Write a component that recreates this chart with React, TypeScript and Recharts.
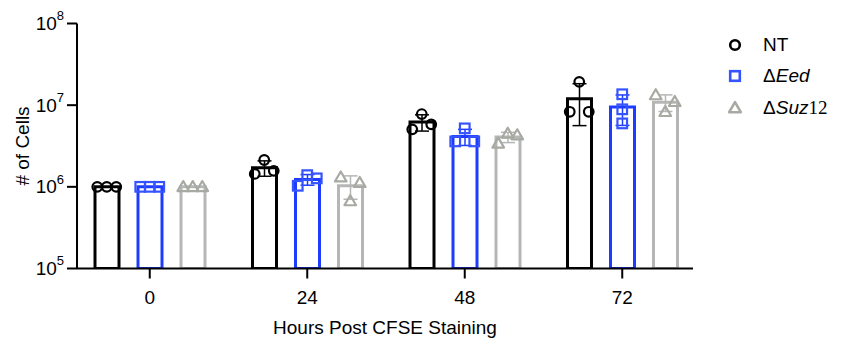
import React from "react";
import { ComposedChart, Bar, ErrorBar, Scatter, XAxis, YAxis, Legend } from "recharts";

const hours = ["0", "24", "48", "72"];

// cell counts per replicate, one row per time point, left-to-right as plotted
const ntCells = [
  [1.0e6, 1.0e6, 1.0e6],
  [1.44e6, 2.13e6, 1.57e6],
  [5.06e6, 7.78e6, 5.82e6],
  [8.3e6, 1.93e7, 8.3e6],
];
const eedCells = [
  [1.0e6, 1.0e6, 1.0e6],
  [1.03e6, 1.39e6, 1.27e6],
  [3.6e6, 5.2e6, 3.6e6],
  [1.36e7, 8.9e6, 5.98e6],
];
const suzCells = [
  [1.0e6, 1.0e6, 1.0e6],
  [1.31e6, 0.67e6, 1.12e6],
  [3.4e6, 4.5e6, 4.3e6],
  [1.33e7, 8.3e6, 1.1e7],
];

const FONT = "'Liberation Sans', Arial, sans-serif";
const BAR_SIZE = 24;
const BAR_GAP = 19;
const PAD = { left: -6, right: -8 };

const SERIES = [
  { key: "nt", cells: ntCells, color: "#000000", mark: "#000000", kind: "circle" },
  { key: "eed", cells: eedCells, color: "#1e3cff", mark: "#3553ff", kind: "square" },
  { key: "suz", cells: suzCells, color: "#b6b6b6", mark: "#a6aaa2", kind: "triangle" },
];

const mean = (v: number[]) => v.reduce((a, b) => a + b, 0) / v.length;
const sd = (v: number[]) => {
  const m = mean(v);
  return Math.sqrt(v.reduce((a, b) => a + (b - m) ** 2, 0) / (v.length - 1));
};

// spread replicates sideways only when their markers would overlap
const slotsFor = (vals: number[]) => {
  const logs = vals.map(Math.log10);
  const crowded = logs.some((a, i) => logs.some((b, j) => i !== j && Math.abs(a - b) < 0.16));
  return vals.map((_, j) => (crowded ? j - 1 : 0));
};

const data = hours.map((hour, i) => {
  const row: any = { hour };
  SERIES.forEach((s) => {
    row[s.key] = mean(s.cells[i]);
    row[s.key + "Sd"] = sd(s.cells[i]);
  });
  return row;
});

const points = (cells: number[][]) =>
  cells.flatMap((vals, i) => {
    const slots = slotsFor(vals);
    return vals.map((y, j) => ({ x: i + 0.5, y, slot: slots[j] }));
  });

const Marker = ({ kind, cx, cy, color, sw = 2.2 }: any) => {
  if (kind === "circle")
    return <circle cx={cx} cy={cy} r={4.8} fill="none" stroke={color} strokeWidth={sw} />;
  if (kind === "square")
    return <rect x={cx - 4.8} y={cy - 4.8} width={9.6} height={9.6} fill="none" stroke={color} strokeWidth={sw} />;
  return (
    <polygon
      points={`${cx},${cy - 5.8} ${cx + 5.8},${cy + 4.2} ${cx - 5.8},${cy + 4.2}`}
      fill="none"
      stroke={color}
      strokeWidth={sw}
      strokeLinejoin="round"
    />
  );
};

const PowerTick = ({ x, y, payload }: any) => (
  <text x={x} y={y} textAnchor="end" fontFamily={FONT} fill="#000">
    <tspan fontSize={19} dy="0.35em">10</tspan>
    <tspan fontSize={13} dy="-0.75em">{Math.round(Math.log10(payload.value))}</tspan>
  </text>
);

const legendLabels = [
  <span>NT</span>,
  <span>
    Δ<i>Eed</i>
  </span>,
  <span>
    Δ<i>Suz</i>
    <span style={{ fontFamily: "'Liberation Serif', 'Times New Roman', serif" }}>12</span>
  </span>,
];

const LegendBox = () => (
  <div style={{ fontFamily: FONT, fontSize: 19, color: "#000" }}>
    {SERIES.map((s, k) => (
      <div key={s.key} style={{ display: "flex", alignItems: "center", height: 31.5 }}>
        <svg width={20} height={20}>
          <Marker kind={s.kind} cx={10} cy={10} color={s.mark} sw={2.6} />
        </svg>
        <span style={{ marginLeft: 18 }}>{legendLabels[k]}</span>
      </div>
    ))}
  </div>
);

export default function App() {
  return (
    <div>
      <style>{"body{margin:0}"}</style>
      <ComposedChart
        width={845}
        height={342}
        data={data}
        barSize={BAR_SIZE}
        barGap={BAR_GAP}
        margin={{ top: 23.5, right: 152, bottom: 0, left: 0 }}
      >
        <XAxis
          dataKey="hour"
          padding={PAD}
          height={73.5}
          tickSize={10}
          tickMargin={12}
          tick={{ fontSize: 19, fill: "#000", fontFamily: FONT }}
          axisLine={{ stroke: "#000", strokeWidth: 2 }}
          tickLine={{ stroke: "#000", strokeWidth: 2 }}
          label={{
            content: ({ viewBox }: any) => (
              <text
                x={viewBox.x + viewBox.width / 2}
                y={333.5}
                textAnchor="middle"
                fontSize={19}
                fontFamily={FONT}
                fill="#000"
              >
                Hours Post CFSE Staining
              </text>
            ),
          }}
        />
        <XAxis xAxisId="pts" type="number" dataKey="x" domain={[0, 4]} padding={PAD} allowDataOverflow hide />
        <YAxis
          type="number"
          scale="log"
          domain={[1e5, 1e8]}
          ticks={[1e5, 1e6, 1e7, 1e8]}
          allowDataOverflow
          width={77}
          tickSize={10}
          tickMargin={3}
          tick={<PowerTick />}
          axisLine={{ stroke: "#000", strokeWidth: 2 }}
          tickLine={{ stroke: "#000", strokeWidth: 2 }}
          label={{
            content: ({ viewBox }: any) => {
              const cy = viewBox.y + viewBox.height / 2;
              return (
                <text
                  x={22}
                  y={cy}
                  transform={`rotate(-90, 22, ${cy})`}
                  textAnchor="middle"
                  dominantBaseline="central"
                  fontSize={19}
                  fontFamily={FONT}
                  fill="#000"
                >
                  # of Cells
                </text>
              );
            },
          }}
        />
        <Legend
          layout="vertical"
          align="center"
          verticalAlign="middle"
          wrapperStyle={{ left: 725, top: 29, width: 120 }}
          content={<LegendBox />}
        />
        {SERIES.map((s) => (
          <Bar
            key={s.key}
            dataKey={s.key}
            fill="#ffffff"
            stroke={s.color}
            strokeWidth={3}
            isAnimationActive={false}
          >
            <ErrorBar dataKey={s.key + "Sd"} width={7} stroke={s.color} strokeWidth={1.5} direction="y" />
          </Bar>
        ))}
        {SERIES.map((s, k) => (
          <Scatter
            key={s.key + "pts"}
            xAxisId="pts"
            data={points(s.cells)}
            dataKey="y"
            isAnimationActive={false}
            shape={(p: any) => (
              <Marker
                kind={s.kind}
                cx={p.cx + (k - 1) * (BAR_SIZE + BAR_GAP) + p.payload.slot * 9.5}
                cy={p.cy}
                color={s.mark}
              />
            )}
          />
        ))}
      </ComposedChart>
    </div>
  );
}
